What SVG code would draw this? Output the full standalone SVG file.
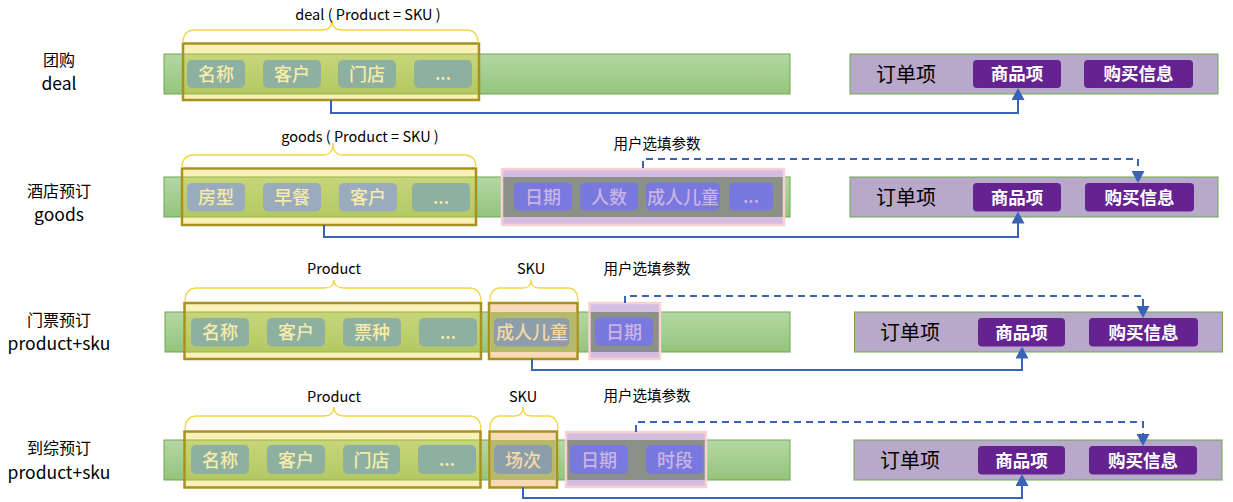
<svg xmlns="http://www.w3.org/2000/svg" width="1233" height="502" viewBox="0 0 1233 502">
<defs>
<linearGradient id="gbar" x1="0" y1="0" x2="0" y2="1">
<stop offset="0" stop-color="#b4d7a4"/>
<stop offset="1" stop-color="#95c47d"/>
</linearGradient>
<marker id="arr" markerUnits="userSpaceOnUse" markerWidth="14" markerHeight="14" refX="2" refY="6.5" orient="auto">
<path d="M0,0 L12,6.5 L0,13 z" fill="#3a62b8"/>
</marker>
<style>
text{font-family:"Noto Sans CJK SC","Noto Sans",sans-serif}
.bar{fill:url(#gbar);stroke:#6aa84f;stroke-width:1}
.ybox{fill:#f0d12b;fill-opacity:.33;stroke:#a8921e;stroke-width:2.5}
.skubox{fill:#f9dab8;stroke:#a8921e;stroke-width:2.5}
.skuband{fill:#b7b96a}
.pbox{fill:#d4bde0;stroke:#f6d2d2;stroke-width:2.5}
.pband{fill:#8b9187}
.c1{fill:#8eb0a0}
.c2{fill:#9aabbd}
.c3{fill:#8d9eab}
.cp{fill:#7878de}
.ty{fill:#f5eca8;font-size:18px;font-weight:500;text-anchor:middle}
.to{fill:#f5d9a5;font-size:18px;font-weight:500;text-anchor:middle}
.tp{fill:#cab4e4;font-size:18px;font-weight:500;text-anchor:middle}
.obox{fill:#b8a9cb;stroke:#6aa84f;stroke-width:1}
.oc{fill:#652291}
.ow{fill:#ffffff;font-size:17.5px;font-weight:bold;text-anchor:middle}
.ol{fill:#000;font-size:20px;text-anchor:middle}
.lab{fill:#000;font-size:16px;text-anchor:middle}
.lat{fill:#000;font-size:17.5px;text-anchor:middle}
.top{fill:#000;font-size:14.5px;text-anchor:middle}
.brace{fill:none;stroke:#f2d544;stroke-width:1.3}
.con{fill:none;stroke:#3a62b8;stroke-width:2}
.dash{fill:none;stroke:#3a62b8;stroke-width:2;stroke-dasharray:7 5}
</style>
</defs>
<g id="labels">
<text class="lab" x="59" y="66">团购</text>
<text class="lat" x="59" y="90">deal</text>
<text class="lab" x="59" y="197">酒店预订</text>
<text class="lat" x="59" y="221">goods</text>
<text class="lab" x="59" y="326">门票预订</text>
<text class="lat" x="59" y="350">product+sku</text>
<text class="lab" x="59" y="454">到综预订</text>
<text class="lat" x="59" y="479">product+sku</text>
</g>
<g id="row1">
<rect class="bar" x="164" y="54" width="626" height="40"/>
<g id="deal">
<rect class="ybox" x="183" y="43.5" width="296" height="56.5"/>
<path class="brace" d="M183,43 Q183,30 195,30 H322 Q332,30 332,20 Q332,30 342,30 H466 Q478,30 478,43"/>
<text class="top" x="368" y="20">deal ( Product = SKU )</text>
<rect class="c1" x="187" y="60" width="58" height="28" rx="5"/><text class="ty" x="216" y="80.5">名称</text>
<rect class="c1" x="263" y="60" width="58" height="28" rx="5"/><text class="ty" x="292" y="80.5">客户</text>
<rect class="c1" x="338" y="60" width="58" height="28" rx="5"/><text class="ty" x="367" y="80.5">门店</text>
<rect class="c1" x="414" y="60" width="58" height="28" rx="5"/><text class="ty" x="443" y="80">...</text>
</g>
<g id="order1">
<rect class="obox" x="850" y="54" width="368" height="40"/>
<text class="ol" x="906" y="82">订单项</text>
<rect class="oc" x="973" y="60" width="88" height="28" rx="4"/><text class="ow" x="1017" y="80">商品项</text>
<rect class="oc" x="1084" y="60" width="109" height="28" rx="4"/><text class="ow" x="1138.5" y="80">购买信息</text>
</g>
</g>
<g id="row2">
<rect class="bar" x="164" y="177" width="626" height="40"/>
<g id="goods">
<rect class="ybox" x="182" y="168.5" width="294" height="56.5"/>
<path class="brace" d="M182,168 Q182,155 194,155 H323 Q333,155 333,143 Q333,155 343,155 H464 Q476,155 476,168"/>
<text class="top" x="360" y="142">goods ( Product = SKU )</text>
<rect class="c2" x="187" y="183" width="58" height="28.5" rx="5"/><text class="ty" x="216" y="204">房型</text>
<rect class="c2" x="263" y="183" width="58" height="28.5" rx="5"/><text class="ty" x="292" y="204">早餐</text>
<rect class="c2" x="339" y="183" width="58" height="28.5" rx="5"/><text class="ty" x="368" y="204">客户</text>
<rect class="c1" x="412" y="183" width="58" height="28.5" rx="5"/><text class="ty" x="441" y="203.5">...</text>
</g>
<g id="params2">
<rect class="pbox" x="502" y="169" width="282" height="56"/>
<rect class="pband" x="503.3" y="177" width="279.4" height="40"/>
<text class="top" x="657" y="149">用户选填参数</text>
<rect class="cp" x="514" y="182.5" width="58" height="28" rx="5"/><text class="tp" x="543" y="203.5">日期</text>
<rect class="cp" x="580" y="182.5" width="58" height="28" rx="5"/><text class="tp" x="609" y="203.5">人数</text>
<rect class="cp" x="646" y="182.5" width="74" height="28" rx="5"/><text class="tp" x="683" y="203.5">成人儿童</text>
<rect class="cp" x="729" y="182.5" width="44" height="28" rx="5"/><text class="tp" x="751" y="203">...</text>
</g>
<g id="order2">
<rect class="obox" x="850" y="177" width="368" height="40"/>
<text class="ol" x="906" y="205">订单项</text>
<rect class="oc" x="973" y="183" width="88" height="28.5" rx="4"/><text class="ow" x="1017" y="203.5">商品项</text>
<rect class="oc" x="1085" y="183" width="109" height="28.5" rx="4"/><text class="ow" x="1139.5" y="203.5">购买信息</text>
</g>
</g>
<g id="row3">
<rect class="bar" x="165" y="312" width="625" height="40"/>
<g id="product3">
<rect class="ybox" x="184.5" y="303" width="296.5" height="56"/>
<path class="brace" d="M185,302 Q185,288 197,288 H324 Q334,288 334,280 Q334,288 344,288 H469 Q481,288 481,302"/>
<text class="top" x="334" y="274">Product</text>
<rect class="c1" x="191" y="318" width="58" height="28.5" rx="5"/><text class="ty" x="220" y="339">名称</text>
<rect class="c1" x="267" y="318" width="58" height="28.5" rx="5"/><text class="ty" x="296" y="339">客户</text>
<rect class="c1" x="343" y="318" width="58" height="28.5" rx="5"/><text class="ty" x="372" y="339">票种</text>
<rect class="c1" x="419" y="318" width="58" height="28.5" rx="5"/><text class="ty" x="448" y="338.5">...</text>
</g>
<g id="sku3">
<rect class="skubox" x="489" y="303" width="88.5" height="56"/>
<rect class="skuband" x="490.3" y="312" width="85.9" height="40"/>
<path class="brace" d="M490,302 Q490,288 500,288 H523 Q531,288 531,280 Q531,288 539,288 H568 Q578,288 578,302"/>
<text class="top" x="531" y="274">SKU</text>
<rect class="c3" x="494" y="318" width="75.5" height="28.5" rx="5"/><text class="to" x="532" y="339">成人儿童</text>
</g>
<g id="params3">
<rect class="pbox" x="589.5" y="303" width="70.5" height="56"/>
<rect class="pband" x="590.8" y="312" width="67.9" height="40"/>
<text class="top" x="647" y="274">用户选填参数</text>
<rect class="cp" x="595" y="317.5" width="58" height="28.5" rx="5"/><text class="tp" x="624" y="338.5">日期</text>
</g>
<g id="order3">
<rect class="obox" x="854.5" y="312" width="368" height="40"/>
<text class="ol" x="910" y="340">订单项</text>
<rect class="oc" x="978" y="318" width="87" height="28.5" rx="4"/><text class="ow" x="1021.5" y="338.5">商品项</text>
<rect class="oc" x="1089" y="318" width="109" height="28.5" rx="4"/><text class="ow" x="1143.5" y="338.5">购买信息</text>
</g>
</g>
<g id="row4">
<rect class="bar" x="164" y="440" width="626" height="40"/>
<g id="product4">
<rect class="ybox" x="184.5" y="431.5" width="296" height="56"/>
<path class="brace" d="M185,430 Q185,416 197,416 H324 Q334,416 334,407 Q334,416 344,416 H469 Q481,416 481,430"/>
<text class="top" x="334" y="402">Product</text>
<rect class="c1" x="191" y="445" width="58" height="29" rx="5"/><text class="ty" x="220" y="466.5">名称</text>
<rect class="c1" x="267" y="445" width="58" height="29" rx="5"/><text class="ty" x="296" y="466.5">客户</text>
<rect class="c1" x="343" y="445" width="57" height="29" rx="5"/><text class="ty" x="371.5" y="466.5">门店</text>
<rect class="c1" x="418" y="445" width="58" height="29" rx="5"/><text class="ty" x="447" y="466">...</text>
</g>
<g id="sku4">
<rect class="skubox" x="489.5" y="431.5" width="67.5" height="56"/>
<rect class="skuband" x="490.8" y="440" width="64.9" height="40"/>
<path class="brace" d="M490,430 Q490,416 500,416 H515 Q523,416 523,407 Q523,416 531,416 H548 Q558,416 558,430"/>
<text class="top" x="523" y="402">SKU</text>
<rect class="c3" x="494" y="445" width="58" height="29" rx="5"/><text class="to" x="523" y="466.5">场次</text>
</g>
<g id="params4">
<rect class="pbox" x="566" y="432" width="140" height="55"/>
<rect class="pband" x="567.3" y="440" width="137.4" height="40"/>
<text class="top" x="647" y="401">用户选填参数</text>
<rect class="cp" x="570" y="445" width="58" height="29" rx="5"/><text class="tp" x="599" y="466.5">日期</text>
<rect class="cp" x="646" y="445" width="57.5" height="29" rx="5"/><text class="tp" x="675" y="466.5">时段</text>
</g>
<g id="order4">
<rect class="obox" x="854" y="440" width="368" height="40"/>
<text class="ol" x="910" y="468">订单项</text>
<rect class="oc" x="978" y="446" width="87" height="28.5" rx="4"/><text class="ow" x="1021.5" y="466.5">商品项</text>
<rect class="oc" x="1089" y="446" width="108" height="28.5" rx="4"/><text class="ow" x="1143" y="466.5">购买信息</text>
</g>
</g>
<g id="connectors">
<path class="con" d="M331,100 V113 H1018 V98" marker-end="url(#arr)"/>
<path class="con" d="M324,225 V237 H1018 V221.5" marker-end="url(#arr)"/>
<path class="dash" d="M643,168 V159 H1138 V173" marker-end="url(#arr)"/>
<path class="con" d="M532,359 V370 H1022 V356.5" marker-end="url(#arr)"/>
<path class="dash" d="M625,303 V296 H1143 V308" marker-end="url(#arr)"/>
<path class="con" d="M523,487 V498 H1022 V484" marker-end="url(#arr)"/>
<path class="dash" d="M636,432 V422 H1143 V436" marker-end="url(#arr)"/>
</g>
</svg>
